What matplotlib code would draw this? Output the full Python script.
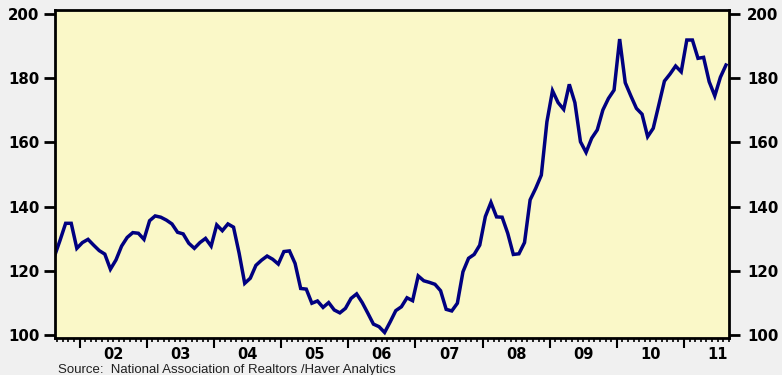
import matplotlib
matplotlib.use("Agg")
import matplotlib.pyplot as plt
from matplotlib.ticker import FixedLocator, NullFormatter
import numpy as np

# Monthly values, Aug 2001 .. Aug 2011
start_year, start_month = 2001, 8
values = [
    124.5, 129.5, 134.8, 134.8, 127.0,                                                   # 2001 Aug-Dec
    128.8, 129.8, 128.0, 126.3, 125.2, 120.5, 123.4, 127.7, 130.4, 131.9, 131.7, 129.8,  # 2002
    135.6, 137.1, 136.7, 135.8, 134.6, 132.0, 131.5, 128.6, 127.0, 128.8, 130.1, 127.7,  # 2003
    134.3, 132.5, 134.6, 133.6, 125.5, 116.1, 117.7, 121.7, 123.3, 124.6, 123.6, 122.1,  # 2004
    126.0, 126.2, 122.3, 114.5, 114.3, 109.9, 110.6, 108.6, 110.1, 107.8, 106.9, 108.3,  # 2005
    111.4, 112.8, 110.1, 106.8, 103.4, 102.6, 100.8, 104.1, 107.6, 108.8, 111.6, 110.7,  # 2006
    118.4, 116.9, 116.4, 115.8, 113.8, 108.0, 107.5, 109.9, 119.7, 123.9, 125.1, 128.0,  # 2007
    136.9, 141.3, 136.8, 136.7, 131.7, 125.1, 125.3, 128.8, 142.1, 145.7, 149.8, 166.4,  # 2008
    176.1, 172.4, 170.3, 178.1, 172.4, 160.2, 156.9, 161.3, 163.9, 170.1, 173.7, 176.3,  # 2009
    192.2, 178.6, 174.5, 170.6, 168.8, 161.8, 164.4, 171.7, 179.1, 181.3, 183.8, 182.0,  # 2010
    191.9, 191.9, 186.2, 186.5, 178.9, 174.5, 180.3, 184.1,                              # 2011
]
year_labels = ["02", "03", "04", "05", "06", "07", "08", "09", "10", "11"]
label_years = [2002, 2003, 2004, 2005, 2006, 2007, 2008, 2009, 2010, 2011]
y_ticks = [100, 120, 140, 160, 180, 200]
source_text = "Source:  National Association of Realtors /Haver Analytics"

# mid-month positions in fractional years
n = len(values)
months = np.arange(n) + (start_month - 1)
x = start_year + (months + 0.5) / 12.0

fig = plt.figure(figsize=(7.82, 3.75), dpi=100, facecolor="#F0F0F0")
ax = fig.add_axes([55 / 782, 1 - 338 / 375, (729 - 55) / 782, (338 - 10) / 375])
ax.set_facecolor("#FAF8C8")
ax.plot(x, values, color="#000080", lw=2.5, solid_joinstyle="miter")

ax.set_xlim(2001 + 7.6 / 12, 2011 + 8.04 / 12)
ax.set_ylim(99.07, 201.25)

for s in ax.spines.values():
    s.set_linewidth(2.0)
    s.set_color("black")

# x ticks: majors at year starts, minors monthly, labels at mid-year
major_x = list(range(2002, 2012))
minor_x = [2001 + m / 12 for m in range(8, 12 * 11 + 8) if m % 12 != 0]
ax.xaxis.set_major_locator(FixedLocator(major_x))
ax.xaxis.set_minor_locator(FixedLocator(minor_x))
ax.xaxis.set_major_formatter(NullFormatter())
ax.tick_params(axis="x", which="major", direction="out", length=7, width=1.5, color="black")
ax.tick_params(axis="x", which="minor", direction="out", length=3, width=1.2, color="black")
for yr, lab in zip(label_years, year_labels):
    ax.text(yr + 0.5, -0.027, lab, transform=ax.get_xaxis_transform(), ha="center", va="top",
            fontsize=10.5, fontweight="bold", family="DejaVu Sans")

ax.set_yticks(y_ticks)
ax.set_yticklabels([str(v) for v in y_ticks])
ax.tick_params(axis="y", which="major", direction="out", length=8, width=2, pad=3,
               labelsize=10.8, left=True, right=False)
for lab in ax.get_yticklabels():
    lab.set_fontweight("bold")
    lab.set_family("DejaVu Sans")

ax2 = ax.twinx()
ax2.set_ylim(ax.get_ylim())
ax2.set_yticks(y_ticks)
ax2.set_yticklabels([str(v) for v in y_ticks])
ax2.tick_params(axis="y", direction="out", length=8, width=2, pad=5, labelsize=10.8)
for lab in ax2.get_yticklabels():
    lab.set_fontweight("bold")
    lab.set_family("DejaVu Sans")
for s in ax2.spines.values():
    s.set_visible(False)

fig.text(58 / 782, 1 - 372.5 / 375, source_text, ha="left", va="baseline",
         fontsize=9.5, family="Liberation Sans", color="#202020")

fig.savefig("out.png", dpi=100, facecolor=fig.get_facecolor())
